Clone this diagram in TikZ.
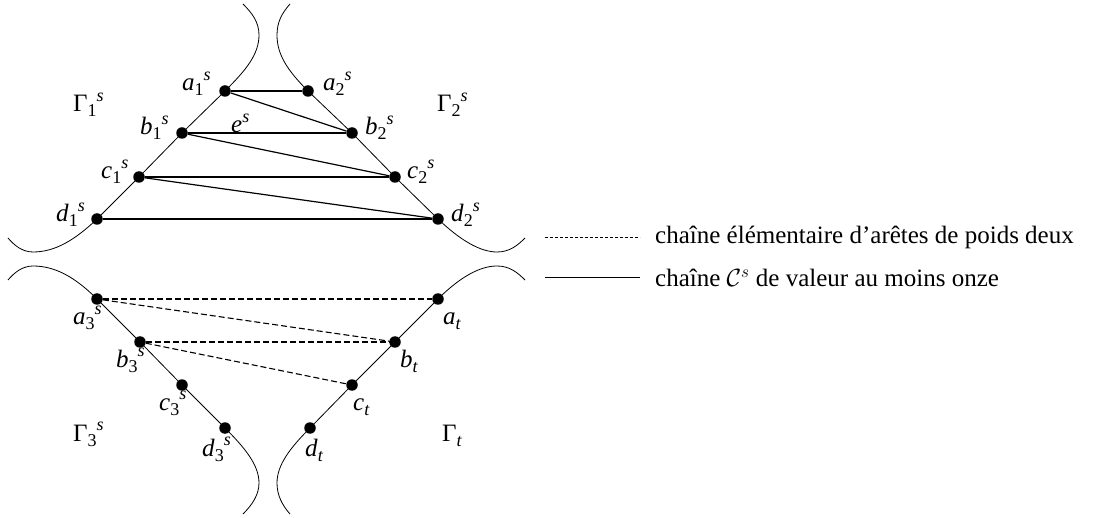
\documentclass[tikz,border=0pt]{standalone}
\usepackage{fontspec}
\setmainfont{Liberation Serif}
% index and exponent set at 18pt beside a 25pt letter
\newcommand{\ixsub}[1]{\raisebox{-0.2em}{\fontsize{18}{18}\selectfont #1}}
\newcommand{\ixsup}[1]{\raisebox{0.42em}{\fontsize{18}{18}\selectfont\textit{#1}}}
\newcommand{\vlab}[3]{\textit{#1}\ixsub{#2}\ixsup{#3}}
\begin{document}
\begin{tikzpicture}[x=1pt,y=-1pt,
  vtx/.style={circle,fill=black,inner sep=0pt,minimum size=11.5pt},
  side/.style={line width=0.8pt},
  edge/.style={line width=1.2pt},
  dedge/.style={line width=1.1pt,dash pattern=on 6pt off 3pt},
  lbl/.style={font=\fontsize{25}{28}\selectfont,inner sep=0pt,anchor=base west},
  legtxt/.style={font=\fontsize{25}{28}\selectfont,anchor=west,inner sep=0pt}]
\useasboundingbox (0,0) rectangle (1116,518);

% upper part
\node[vtx] (a1) at (225,91) {};
\node[vtx] (a2) at (308,91) {};
\node[vtx] (b1) at (182,133) {};
\node[vtx] (b2) at (352,133) {};
\node[vtx] (c1) at (139,177) {};
\node[vtx] (c2) at (395,177) {};
\node[vtx] (d1) at (97,219) {};
\node[vtx] (d2) at (438,219) {};

% lower part
\node[vtx] (a3) at (97,299) {};
\node[vtx] (at) at (438,299) {};
\node[vtx] (b3) at (140,342) {};
\node[vtx] (bt) at (395,342) {};
\node[vtx] (c3) at (182,385) {};
\node[vtx] (ct) at (352,385) {};
\node[vtx] (d3) at (225,428) {};
\node[vtx] (dt) at (310,428) {};

% boundary curves
\coordinate (ul0) at (243,4);
\coordinate (ur0) at (290,4);
\coordinate (ulm) at (259,35);
\coordinate (urm) at (277,35);
\draw[side] (ul0) .. controls (252,13) and (259,22) .. (ulm) .. controls (259,55) and (245,71) .. (a1.center)
  -- (b1.center) -- (c1.center) -- (d1.center)
  .. controls (75,240) and (55,252) .. (33,252) .. controls (22,252) and (14,245) .. (8,238);
\draw[side] (ur0) .. controls (282,13) and (277,22) .. (urm) .. controls (277,55) and (288,71) .. (a2.center)
  -- (b2.center) -- (c2.center) -- (d2.center)
  .. controls (460,240) and (480,252) .. (497,252) .. controls (510,252) and (518,245) .. (525,238);
\draw[side] (8,280) .. controls (14,273) and (22,266) .. (33,266) .. controls (55,266) and (75,277) .. (a3.center)
  -- (b3.center) -- (c3.center) -- (d3.center)
  .. controls (245,448) and (259,465) .. (259,483) .. controls (259,495) and (252,505) .. (243,514);
\draw[side] (525,280) .. controls (518,273) and (510,266) .. (497,266) .. controls (480,266) and (460,277) .. (at.center)
  -- (bt.center) -- (ct.center) -- (dt.center)
  .. controls (290,448) and (277,465) .. (277,483) .. controls (277,495) and (282,505) .. (290,514);

% chain edges
\draw[edge] (a1) -- (a2);
\draw[edge] (a1) -- (b2);
\draw[edge] (b1) -- (b2);
\draw[edge] (b1) -- (c2);
\draw[edge] (c1) -- (c2);
\draw[edge] (c1) -- (d2);
\draw[edge] (d1) -- (d2);

% weight-two edges
\draw[dedge] (a3) -- (at);
\draw[dedge] (a3) -- (bt);
\draw[dedge] (b3) -- (bt);
\draw[dedge] (b3) -- (ct);

% vertex labels
\node[lbl] (la1) at (182,91) {\vlab{a}{1}{s}};
\node[lbl] (la2) at (323,91) {\vlab{a}{2}{s}};
\node[lbl] (lb1) at (140,135) {\vlab{b}{1}{s}};
\node[lbl] (lb2) at (365,135) {\vlab{b}{2}{s}};
\node[lbl] (lc1) at (101,179) {\vlab{c}{1}{s}};
\node[lbl] (lc2) at (407,179) {\vlab{c}{2}{s}};
\node[lbl] (ld1) at (56,222) {\vlab{d}{1}{s}};
\node[lbl] (ld2) at (451,222) {\vlab{d}{2}{s}};
\node[lbl] (le) at (231,133) {\textit{e}\ixsup{s}};
\node[lbl] (g1) at (73,112) {Γ\ixsub{1}\ixsup{s}};
\node[lbl] (g2) at (437,112) {Γ\ixsub{2}\ixsup{s}};

\node[lbl] (la3) at (73,325) {\vlab{a}{3}{s}};
\node[lbl] (lat) at (443,325) {\textit{a}\ixsub{\textit{t}}};
\node[lbl] (lb3) at (116,367) {\vlab{b}{3}{s}};
\node[lbl] (lbt) at (400,367) {\textit{b}\ixsub{\textit{t}}};
\node[lbl] (lc3) at (159,410) {\vlab{c}{3}{s}};
\node[lbl] (lct) at (353,410) {\textit{c}\ixsub{\textit{t}}};
\node[lbl] (ld3) at (202,456) {\vlab{d}{3}{s}};
\node[lbl] (ldt) at (305,456) {\textit{d}\ixsub{\textit{t}}};
\node[lbl] (g3) at (73,441) {Γ\ixsub{3}\ixsup{s}};
\node[lbl] (gt) at (442,441) {Γ\ixsub{\textit{t}}};

% legend
\coordinate (k1a) at (545,237);
\coordinate (k1b) at (640,237);
\coordinate (k2a) at (545,278);
\coordinate (k2b) at (640,278);
\draw[line width=0.8pt,dash pattern=on 3pt off 2pt] (k1a) -- (k1b);
\draw[line width=1pt] (k2a) -- (k2b);
\node[legtxt] (t1) at (655,237) {chaîne élémentaire d’arêtes de poids deux};
\node[legtxt] (t2) at (655,278) {chaîne $\mathcal{C}^s$ de valeur au moins onze};
\end{tikzpicture}
\end{document}
